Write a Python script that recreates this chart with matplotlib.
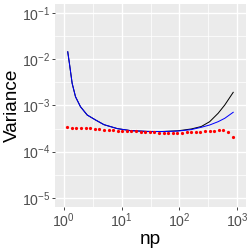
import matplotlib
matplotlib.use("Agg")
import matplotlib.pyplot as plt
from matplotlib.ticker import FixedLocator

plt.rcParams['font.family'] = ['Liberation Sans', 'DejaVu Sans']
plt.rcParams['mathtext.fontset'] = 'custom'
plt.rcParams['mathtext.rm'] = 'Liberation Sans'
plt.rcParams['mathtext.it'] = 'Liberation Sans:italic'

# curves (np, variance)
np_line = [1.175, 1.256, 1.40, 1.60, 1.95, 2.55, 3.56, 4.97, 8.49, 14.5,
           28.2, 50.0, 93.8, 160, 238, 333, 466, 607, 849]
var_blue = [0.01459, 0.00818, 0.00303, 0.00155, 0.000942, 0.000622, 0.000485,
            0.000384, 0.000315, 0.000285, 0.000274, 0.000272, 0.000279,
            0.000300, 0.000337, 0.000378, 0.000446, 0.000528, 0.000713]
var_black = [0.01459, 0.00818, 0.00303, 0.00155, 0.000942, 0.000622, 0.000485,
             0.000384, 0.000315, 0.000285, 0.000274, 0.000273, 0.000283,
             0.000310, 0.000350, 0.000446, 0.000678, 0.001026, 0.00193]

# simulated points
np_pts = [1.148, 1.378, 1.655, 1.987, 2.385, 2.864, 3.438, 4.128, 4.956, 5.950,
          7.144, 8.577, 10.30, 12.36, 14.84, 17.82, 21.39, 25.69, 30.84, 37.03,
          44.45, 53.37, 64.08, 76.93, 92.36, 110.9, 133.1, 159.8, 191.9, 230.4,
          276.6, 332.1, 398.7, 478.7, 574.7, 690.0, 828.4]
var_pts = [3.37e-4, 3.30e-4, 3.33e-4, 3.28e-4, 3.23e-4, 3.20e-4, 3.15e-4, 3.06e-4,
           3.00e-4, 2.95e-4, 2.90e-4, 2.86e-4, 2.84e-4, 2.81e-4, 2.77e-4, 2.76e-4,
           2.71e-4, 2.67e-4, 2.62e-4, 2.60e-4, 2.59e-4, 2.59e-4, 2.58e-4, 2.58e-4,
           2.59e-4, 2.59e-4, 2.61e-4, 2.63e-4, 2.66e-4, 2.70e-4, 2.74e-4, 2.79e-4,
           2.84e-4, 2.89e-4, 2.95e-4, 2.72e-4, 2.11e-4]

fig = plt.figure(figsize=(249/72, 249/72), dpi=72)
ax = fig.add_axes([55/249, 1-207/249, 191/249, 203/249])
ax.set_facecolor('#EBEBEB')

ax.plot(np_line, var_black, color='black', lw=1.0, zorder=3)
ax.plot(np_line, var_blue, color='blue', lw=1.0, zorder=4)
ax.plot(np_pts, var_pts, 'o', color='red', ms=3.2, mec='none', zorder=5)

ax.set_xscale('log')
ax.set_yscale('log')
ax.set_xlim(10**-0.15, 10**3.15)
ax.set_ylim(10**-5.2, 10**-0.8)

ax.xaxis.set_major_locator(FixedLocator([1, 10, 100, 1000]))
ax.yaxis.set_major_locator(FixedLocator([1e-5, 1e-4, 1e-3, 1e-2, 1e-1]))
ax.xaxis.set_minor_locator(FixedLocator([10**0.5, 10**1.5, 10**2.5]))
ax.yaxis.set_minor_locator(FixedLocator([10**-4.5, 10**-3.5, 10**-2.5, 10**-1.5]))
ax.set_xticklabels([r'$10^{0}$', r'$10^{1}$', r'$10^{2}$', r'$10^{3}$'])
ax.set_yticklabels([r'$10^{-5}$', r'$10^{-4}$', r'$10^{-3}$', r'$10^{-2}$', r'$10^{-1}$'])

ax.grid(which='major', color='white', lw=1.4)
ax.grid(which='minor', color='white', lw=0.7)
ax.set_axisbelow(True)
for s in ax.spines.values():
    s.set_visible(False)

ax.tick_params(which='major', length=2.75, width=0.9, color='#333333',
               labelsize=14, labelcolor='#4D4D4D', pad=1.5)
ax.tick_params(which='minor', length=0)

ax.set_xlabel('np', fontsize=19, labelpad=1)
ax.set_ylabel('Variance', fontsize=19, labelpad=1)

fig.savefig('out.png', dpi=72)
